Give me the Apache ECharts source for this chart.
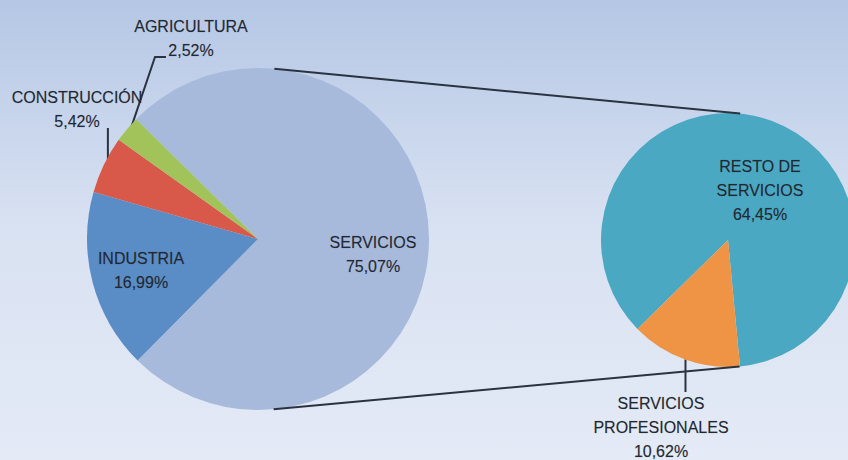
<!DOCTYPE html>
<html>
<head>
<meta charset="utf-8">
<script src="https://cdn.jsdelivr.net/npm/echarts@6/dist/echarts.min.js"></script>
<style>
  html, body { margin: 0; padding: 0; }
  #chart { width: 848px; height: 460px; }
</style>
</head>
<body>
<div id="chart"></div>
<script>
  // sectores (tarta principal)
  const sectores = ['SERVICIOS', 'INDUSTRIA', 'CONSTRUCCIÓN', 'AGRICULTURA']
  const sectorValores = [75.07, 16.99, 5.42, 2.52]
  const sectorColores = ['#a8badc', '#5a8cc6', '#d8584a', '#a2c35a']

  // desglose de servicios (tarta secundaria)
  const servicios = ['RESTO DE\nSERVICIOS', 'SERVICIOS\nPROFESIONALES']
  const serviciosValores = [64.45, 10.62]
  const serviciosColores = ['#4aa8c2', '#ee9444']

  // geometría de las dos tartas
  const c1 = [258, 239]
  const r1 = 171
  const c2 = [728, 240]
  const r2 = 127

  const pct = (v) => v.toFixed(2).replace('.', ',') + '%'

  const textStyle = {
    fontFamily: 'Liberation Sans, Arial, sans-serif',
    fontSize: 16,
    lineHeight: 24,
    color: '#222831',
    textBorderColor: 'rgba(34,40,49,0.35)',
    textBorderWidth: 0.4,
    align: 'center',
    verticalAlign: 'middle',
    overflow: 'none'
  }

  // posiciones de las etiquetas de cada tarta
  const etiquetas1 = [
    { x: 373, y: 254 },
    { x: 141, y: 270 },
    { x: 77, y: 109 },
    { x: 191, y: 38 }
  ]
  const etiquetas2 = [
    { x: 760, y: 190 },
    { x: 661, y: 427 }
  ]

  /** tangente exterior entre las dos circunferencias */
  const tangente = (sign) => {
    const dx = c2[0] - c1[0]
    const dy = c2[1] - c1[1]
    const d = Math.sqrt(dx * dx + dy * dy)
    const ux = dx / d
    const uy = dy / d
    const k = (r1 - r2) / d
    const s = Math.sqrt(1 - k * k)
    const nx = ux * k + sign * -uy * s
    const ny = uy * k + sign * ux * s
    return {
      x1: c1[0] + r1 * nx,
      y1: c1[1] + r1 * ny,
      x2: c2[0] + r2 * nx,
      y2: c2[1] + r2 * ny
    }
  }

  const chart = echarts.init(document.getElementById('chart'), null, { renderer: 'svg' })

  chart.setOption({
    animation: false,
    backgroundColor: {
      type: 'linear',
      x: 0, y: 0, x2: 0, y2: 1,
      colorStops: [
        { offset: 0, color: '#b5c7e5' },
        { offset: 0.5, color: '#d9e2f2' },
        { offset: 1, color: '#e4eaf6' }
      ]
    },
    graphic: [tangente(-1), tangente(1)].map((shape) => ({
      type: 'line',
      z: 10,
      shape,
      style: { stroke: '#2b3340', lineWidth: 2 }
    })),
    series: [
      {
        type: 'pie',
        center: c1,
        radius: r1,
        startAngle: 135.5,
        clockwise: true,
        silent: true,
        data: sectores.map((name, i) => ({
          name,
          value: sectorValores[i],
          itemStyle: { color: sectorColores[i] },
          label: { position: i < 2 ? 'inside' : 'outside' },
          labelLine: { show: i >= 2 }
        })),
        label: {
          show: true,
          formatter: (p) => p.name + '\n' + pct(p.value),
          ...textStyle
        },
        labelLine: {
          lineStyle: { color: '#2b3340', width: 2 }
        },
        labelLayout: (p) => {
          const pos = etiquetas1[p.dataIndex]
          const out = { x: pos.x, y: pos.y, align: 'center', verticalAlign: 'middle' }
          const pts = p.labelLinePoints
          if (pts && p.dataIndex === 2) {
            // línea vertical hasta la etiqueta
            const a = pts[0]
            out.labelLinePoints = [[a[0] + 4, a[1]], [a[0] + 4, 140], [a[0] + 4, 128]]
          } else if (pts && p.dataIndex === 3) {
            const a = pts[0]
            out.labelLinePoints = [[a[0] + 3, a[1] + 2], [155, 57], [166, 57]]
          }
          return out
        }
      },
      {
        type: 'pie',
        center: c2,
        radius: r2,
        startAngle: 224.5,
        clockwise: true,
        silent: true,
        data: servicios.map((name, i) => ({
          name,
          value: serviciosValores[i],
          itemStyle: { color: serviciosColores[i] },
          label: { position: i === 0 ? 'inside' : 'outside' },
          labelLine: { show: i === 1 }
        })),
        label: {
          show: true,
          formatter: (p) => p.name + '\n' + pct(p.value),
          ...textStyle
        },
        labelLine: {
          lineStyle: { color: '#2b3340', width: 2 }
        },
        labelLayout: (p) => {
          const pos = etiquetas2[p.dataIndex]
          const out = { x: pos.x, y: pos.y, align: 'center', verticalAlign: 'middle' }
          const pts = p.labelLinePoints
          if (pts && p.dataIndex === 1) {
            const a = pts[0]
            out.labelLinePoints = [[a[0] + 1, a[1]], [a[0] + 1, 375], [a[0] + 1, 392]]
          }
          return out
        }
      }
    ]
  })
</script>
</body>
</html>
